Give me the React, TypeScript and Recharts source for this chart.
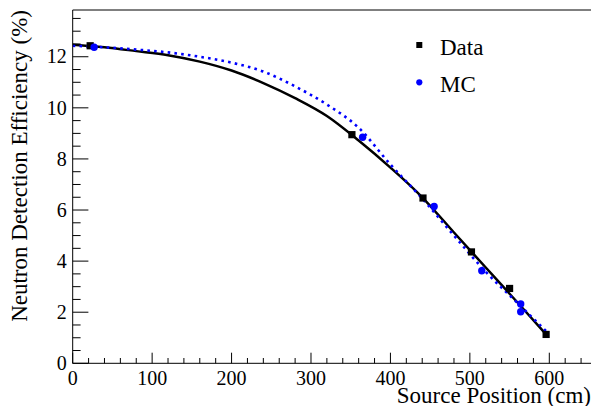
import React from 'react';
import { ComposedChart, Line, Scatter, XAxis, YAxis, Legend, ReferenceLine } from 'recharts';

// Measured points
const dataX = [22, 351.5, 441, 502, 550, 596];
const dataY = [12.43, 8.95, 6.47, 4.36, 2.93, 1.13];
const mcX = [27, 365, 455, 515, 564, 564];
const mcY = [12.37, 8.85, 6.14, 3.62, 2.32, 2.02];

// Fit curves
const fitX = [0, 40, 80, 120, 160, 200, 240, 280, 320, 360, 400, 440, 480, 520, 560, 596];
const dataFitY = [12.47, 12.37, 12.22, 12.06, 11.81, 11.46, 10.97, 10.38, 9.68, 8.72, 7.66, 6.5, 5.12, 3.75, 2.38, 1.13];
const mcFitY = [12.43, 12.37, 12.28, 12.17, 12.0, 11.77, 11.42, 10.84, 10.13, 9.22, 7.78, 6.45, 5.0, 3.58, 2.36, 1.26];

// Axes
const xTicks = [0, 20, 40, 60, 80, 100, 120, 140, 160, 180, 200, 220, 240, 260, 280, 300, 320, 340, 360, 380, 400, 420, 440, 460, 480, 500, 520, 540, 560, 580, 600, 620, 640];
const yTicks = [0, 0.5, 1, 1.5, 2, 2.5, 3, 3.5, 4, 4.5, 5, 5.5, 6, 6.5, 7, 7.5, 8, 8.5, 9, 9.5, 10, 10.5, 11, 11.5, 12, 12.5, 13, 13.5];
const xDomain = [0, 652.5];
const yDomain = [0, 13.83];
const xTitle = 'Source Position (cm)';
const yTitle = 'Neutron Detection Efficiency (%)';
const seriesNames = ['Data', 'MC'];

const dataPoints = dataX.map((x, i) => ({ x, y: dataY[i] }));
const mcPoints = mcX.map((x, i) => ({ x, y: mcY[i] }));
const dataFit = fitX.map((x, i) => ({ x, y: dataFitY[i] }));
const mcFit = fitX.map((x, i) => ({ x, y: mcFitY[i] }));

const FONT = "'Liberation Serif', Tinos, 'Times New Roman', 'DejaVu Serif', serif";
const txtStyle = { fontFamily: FONT };

const XTick = (props: any) => {
  const { x, y, payload } = props;
  const v = payload.value;
  const major = v % 100 === 0;
  return (
    <g>
      <line x1={x} y1={y} x2={x} y2={y - (major ? 10.6 : 5.3)} stroke="#000" strokeWidth={1} />
      {major && (
        <text x={x} y={y + 21.7} textAnchor="middle" fontSize={20} style={txtStyle} fill="#000">
          {v}
        </text>
      )}
    </g>
  );
};

const YTick = (props: any) => {
  const { x, y, payload } = props;
  const v = payload.value;
  const major = v % 2 === 0;
  return (
    <g>
      <line x1={x} y1={y} x2={x + (major ? 15.7 : 7.9)} y2={y} stroke="#000" strokeWidth={1} />
      {major && (
        <text x={x - 6} y={y + 6.7} textAnchor="end" fontSize={20} style={txtStyle} fill="#000">
          {v}
        </text>
      )}
    </g>
  );
};

const SquareShape = (props: any) => {
  const { cx, cy } = props;
  return <rect x={cx - 3.6} y={cy - 3.6} width={7.2} height={7.2} fill="#000" />;
};
const CircleShape = (props: any) => {
  const { cx, cy } = props;
  return <circle cx={cx} cy={cy} r={3.7} fill="#0000ff" />;
};

const LegendBox = (props: any) => {
  const items = (props.payload || []).filter((p: any) => p.type !== 'none');
  return (
    <svg width={110} height={80} style={{ display: 'block', overflow: 'visible' }}>
      {items.map((it: any, i: number) => {
        const cy = 15 + i * 37.3;
        return (
          <g key={i}>
            {it.type === 'square' ? (
              <rect x={9.3 - 3} y={cy - 3} width={6} height={6} fill={it.color} />
            ) : (
              <circle cx={9.3} cy={cy} r={3.1} fill={it.color} />
            )}
            <text x={30} y={cy + 9.6} fontSize={23} style={txtStyle} fill="#000">
              {it.value}
            </text>
          </g>
        );
      })}
    </svg>
  );
};

export default function App() {
  return (
    <div style={{ position: 'absolute', left: 0, top: 0, background: '#fff', fontFamily: FONT }}>
      <ComposedChart
        width={591}
        height={406}
        margin={{ top: 10, right: 0, bottom: 0, left: 0 }}
        style={{ fontFamily: FONT }}
      >
        <XAxis
          type="number"
          dataKey="x"
          domain={xDomain}
          ticks={xTicks}
          interval={0}
          allowDataOverflow
          height={42.7}
          tickSize={0}
          tickMargin={0}
          tickLine={false}
          tick={<XTick />}
          axisLine={{ stroke: '#000', strokeWidth: 1 }}
          label={{
            content: (p: any) => {
              const vb = p.viewBox;
              return (
                <text x={vb.x + vb.width} y={vb.y + 39.7} textAnchor="end" fontSize={23} style={txtStyle} fill="#000">
                  {xTitle}
                </text>
              );
            },
          }}
        />
        <YAxis
          type="number"
          dataKey="y"
          domain={yDomain}
          ticks={yTicks}
          interval={0}
          allowDataOverflow
          width={72.7}
          tickSize={0}
          tickMargin={0}
          tickLine={false}
          tick={<YTick />}
          axisLine={{ stroke: '#000', strokeWidth: 1 }}
          label={{
            content: (p: any) => {
              const vb = p.viewBox;
              const tx = vb.x + 27;
              const ty = vb.y;
              return (
                <text
                  x={tx}
                  y={ty}
                  transform={`rotate(-90, ${tx}, ${ty})`}
                  textAnchor="end"
                  fontSize={23}
                  style={txtStyle}
                  fill="#000"
                >
                  {yTitle}
                </text>
              );
            },
          }}
        />
        <ReferenceLine y={yDomain[1]} stroke="#000" strokeWidth={1} />
        <Legend
          layout="horizontal"
          verticalAlign="middle"
          align="center"
          content={<LegendBox />}
          wrapperStyle={{ left: 410, top: 30, width: 110, height: 80 }}
        />
        <Line
          data={dataFit}
          dataKey="y"
          type="monotone"
          stroke="#000"
          strokeWidth={2.5}
          dot={false}
          legendType="none"
          isAnimationActive={false}
        />
        <Line
          data={mcFit}
          dataKey="y"
          type="monotone"
          stroke="#0000ff"
          strokeWidth={2.6}
          strokeDasharray="2.6 4.2"
          dot={false}
          legendType="none"
          isAnimationActive={false}
        />
        <Scatter
          name={seriesNames[0]}
          data={dataPoints}
          fill="#000"
          legendType="square"
          shape={<SquareShape />}
          isAnimationActive={false}
        />
        <Scatter
          name={seriesNames[1]}
          data={mcPoints}
          fill="#0000ff"
          legendType="circle"
          shape={<CircleShape />}
          isAnimationActive={false}
        />
      </ComposedChart>
    </div>
  );
}
